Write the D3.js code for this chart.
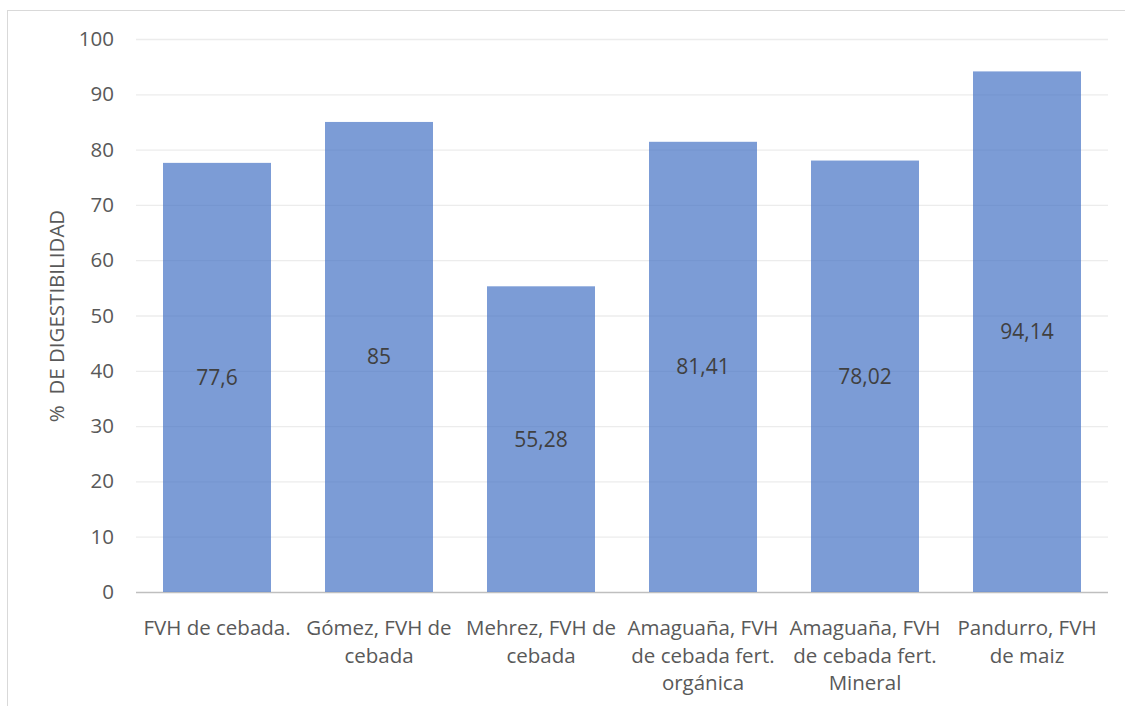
<!DOCTYPE html>
<html><head><meta charset="utf-8">
<script src="https://cdn.jsdelivr.net/npm/d3@7"></script>
<style>body{margin:0;background:#fff}svg{display:block}text{font-family:"Open Sans","Liberation Sans",sans-serif}</style>
</head><body>
<svg id="c" width="1125" height="706"></svg>
<script>
const categories = [
  ["FVH de cebada."],
  ["Gómez, FVH de", "cebada"],
  ["Mehrez, FVH de", "cebada"],
  ["Amaguaña, FVH", "de cebada fert.", "orgánica"],
  ["Amaguaña, FVH", "de cebada fert.", "Mineral"],
  ["Pandurro, FVH", "de maiz"]
];
const values = [77.6, 85, 55.28, 81.41, 78.02, 94.14];
const valueLabels = ["77,6", "85", "55,28", "81,41", "78,02", "94,14"];
const yTicks = [0, 10, 20, 30, 40, 50, 60, 70, 80, 90, 100];
const yTitle = "%  DE DIGESTIBILIDAD";

const svg = d3.select("#c");
const m = {left: 136, right: 1108, top: 39, bottom: 592};

svg.append("rect").attr("x", 7.5).attr("y", 10.5).attr("width", 1130).attr("height", 720)
  .attr("fill", "none").attr("stroke", "#d9d9d9").attr("stroke-width", 1);

const x = d3.scaleBand().domain(d3.range(values.length)).range([m.left, m.right]).paddingInner(1/3).paddingOuter(1/6);
const y = d3.scaleLinear().domain([0, 100]).range([m.bottom, m.top]);

const yAxis = svg.append("g").attr("transform", `translate(${m.left},0)`)
  .call(d3.axisLeft(y).tickValues(yTicks).tickSize(-(m.right - m.left)).tickPadding(22));
yAxis.select(".domain").remove();
yAxis.selectAll(".tick line").attr("stroke", d => d === 0 ? "#bfbfbf" : "#ececec").attr("stroke-width", 1.3);
yAxis.selectAll(".tick text").attr("fill", "#595959").style("font-size", "20.5px");

svg.append("g").selectAll("rect").data(values).join("rect")
  .attr("x", (d, i) => x(i)).attr("width", x.bandwidth())
  .attr("y", d => y(d)).attr("height", d => y(0) - y(d))
  .attr("fill", "#4472c4").attr("fill-opacity", 0.7);

svg.append("g").selectAll("text").data(values).join("text")
  .attr("x", (d, i) => x(i) + x.bandwidth() / 2)
  .attr("y", d => (y(d) + y(0)) / 2)
  .attr("dy", "0.35em").attr("text-anchor", "middle")
  .attr("fill", "#404040").style("font-size", "21px")
  .text((d, i) => valueLabels[i]);

const cat = svg.append("g").selectAll("text").data(categories).join("text")
  .attr("x", (d, i) => x(i) + x.bandwidth() / 2)
  .attr("y", 628)
  .attr("text-anchor", "middle").attr("fill", "#595959").style("font-size", "20.5px");
cat.selectAll("tspan").data(d => d).join("tspan")
  .attr("x", function() { return this.parentNode.getAttribute("x"); })
  .attr("dy", (d, j) => j === 0 ? "0.35em" : "27.5px")
  .text(d => d);

svg.append("text").attr("transform", "translate(57,316) rotate(-90)")
  .attr("text-anchor", "middle").attr("dy", "0.35em").style("white-space", "pre")
  .attr("fill", "#595959").style("font-size", "20.5px").text(yTitle);
</script>
</body></html>
